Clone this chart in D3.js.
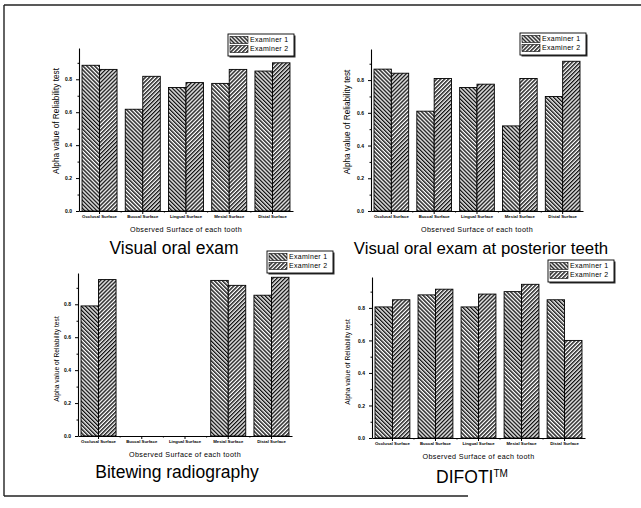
<!DOCTYPE html>
<html>
<head>
<meta charset="utf-8">
<script src="https://cdn.jsdelivr.net/npm/d3@7"></script>
<style>
  body { margin: 0; background: #fff; }
  svg { display: block; font-family: "Liberation Sans", Arial, sans-serif; }
</style>
</head>
<body>
<svg id="chart" width="641" height="508"></svg>
<script>
// values
const categories = ["Occlusal Surface", "Buccal Surface", "Lingual Surface", "Mesial Surface", "Distal Surface"];
const seriesNames = ["Examiner 1", "Examiner 2"];
const yTicks = [0, 0.2, 0.4, 0.6, 0.8];
const yMinorTicks = [0.1, 0.3, 0.5, 0.7, 0.9];

const visualEx1 = [0.885, 0.618, 0.75, 0.775, 0.85];
const visualEx2 = [0.86, 0.818, 0.78, 0.86, 0.90];
const posteriorEx1 = [0.867, 0.61, 0.755, 0.52, 0.70];
const posteriorEx2 = [0.842, 0.81, 0.775, 0.81, 0.915];
const bitewingEx1 = [0.79, 0, 0, 0.945, 0.855];
const bitewingEx2 = [0.95, 0, 0, 0.915, 0.964];
const difotiEx1 = [0.806, 0.88, 0.806, 0.90, 0.85];
const difotiEx2 = [0.85, 0.915, 0.885, 0.945, 0.60];

const titles = ["Visual oral exam", "Visual oral exam at posterior teeth", "Bitewing radiography", "DIFOTI"];

// layout of the four panels
const panels = [
  { ex1: visualEx1, ex2: visualEx2, title: titles[0], x0: 79, x1: 293, top: 48, zero: 211,
    legend: [228, 34], titleX: 174, titleY: 254, titleSize: 17.5, labelX: 57, labelY: 121, labelSize: 8.3 },
  { ex1: posteriorEx1, ex2: posteriorEx2, title: titles[1], x0: 371, x1: 583, top: 49, zero: 211,
    legend: [520, 33], titleX: 481, titleY: 254, titleSize: 16.8, labelX: 348, labelY: 122, labelSize: 8.2 },
  { ex1: bitewingEx1, ex2: bitewingEx2, title: titles[2], x0: 78, x1: 292, top: 273, zero: 436,
    legend: [267, 251], titleX: 177, titleY: 478, titleSize: 17.5, labelX: 57, labelY: 359, labelSize: 6.7 },
  { ex1: difotiEx1, ex2: difotiEx2, title: titles[3], x0: 372, x1: 585, top: 277, zero: 438,
    legend: [548, 260], titleX: 472, titleY: 483, titleSize: 17.5, labelX: 348, labelY: 362, labelSize: 6.7, tm: true }
];

const svg = d3.select("#chart");
const defs = svg.append("defs");

function hatch(id, angle) {
  const p = defs.append("pattern")
    .attr("id", id)
    .attr("patternUnits", "userSpaceOnUse")
    .attr("width", 2.8)
    .attr("height", 2.8)
    .attr("patternTransform", `rotate(${angle})`);
  p.append("rect").attr("width", 2.8).attr("height", 2.8).attr("fill", "#fff");
  p.append("rect").attr("width", 1.4).attr("height", 2.8).attr("fill", "#111");
}
hatch("hatch1", -45);
hatch("hatch2", 45);
const fills = ["url(#hatch1)", "url(#hatch2)"];

// scanned page frame
const frame = svg.append("g").attr("stroke", "#222").attr("stroke-width", 1.4);
frame.append("line").attr("x1", 4).attr("y1", 5).attr("x2", 641).attr("y2", 5);
frame.append("line").attr("x1", 4).attr("y1", 5).attr("x2", 4).attr("y2", 496);
frame.append("line").attr("x1", 4).attr("y1", 496).attr("x2", 468).attr("y2", 496);

panels.forEach(p => {
  const g = svg.append("g");

  const x = d3.scaleBand().domain(categories).range([p.x0, p.x1])
              .paddingInner(0.19).paddingOuter(0.07);
  const sub = d3.scaleBand().domain([0, 1]).range([0, x.bandwidth()]);
  const y = d3.scaleLinear().domain([0, 0.99]).range([p.zero, p.top]);

  // bars
  [p.ex1, p.ex2].forEach((vals, s) => {
    g.selectAll(null)
      .data(vals)
      .join("rect")
        .attr("x", (d, i) => x(categories[i]) + sub(s))
        .attr("y", d => y(d))
        .attr("width", sub.bandwidth())
        .attr("height", d => y(0) - y(d))
        .attr("fill", fills[s])
        .attr("stroke", "#000")
        .attr("stroke-width", 0.9);
  });

  // y axis
  const yAxis = g.append("g")
    .attr("transform", `translate(${p.x0},0)`)
    .call(d3.axisLeft(y).tickValues(yTicks).tickSize(3).tickSizeOuter(0).tickFormat(d3.format(".1f")));
  yAxis.select(".domain").attr("stroke-width", 1.1);
  yAxis.selectAll("text").attr("font-size", 5).attr("font-weight", "bold").attr("dx", -1);
  g.append("g")
    .attr("transform", `translate(${p.x0},0)`)
    .call(d3.axisLeft(y).tickValues(yMinorTicks).tickSize(1.5).tickFormat(""))
    .select(".domain").remove();

  // x axis
  const xAxis = g.append("g")
    .attr("transform", `translate(0,${p.zero})`)
    .call(d3.axisBottom(x).tickSize(3).tickSizeOuter(0));
  xAxis.select(".domain").attr("stroke-width", 1.1);
  xAxis.selectAll("text")
    .attr("font-size", 4.3)
    .attr("font-weight", "bold")
    .attr("dy", "0.3em");
  const bounds = categories.slice(1).map(c => x(c) - x.step() * x.paddingInner() / 2);
  g.append("g").selectAll("line")
    .data(bounds)
    .join("line")
      .attr("x1", d => d).attr("x2", d => d)
      .attr("y1", p.zero).attr("y2", p.zero + 1.5)
      .attr("stroke", "#000");

  // axis titles
  g.append("text")
    .attr("x", (p.x0 + p.x1) / 2)
    .attr("y", p.zero + 21)
    .attr("text-anchor", "middle")
    .attr("font-size", 7.2)
    .attr("letter-spacing", 0.35)
    .text("Observed Surface of each tooth");
  g.append("text")
    .attr("transform", `translate(${p.labelX},${p.labelY}) rotate(-90)`)
    .attr("text-anchor", "middle")
    .attr("dominant-baseline", "middle")
    .attr("font-size", p.labelSize)
    .text("Alpha value of Reliability test");

  // panel title
  const t = g.append("text")
    .attr("x", p.titleX)
    .attr("y", p.titleY)
    .attr("text-anchor", "middle")
    .attr("font-size", p.titleSize)
    .text(p.title);
  if (p.tm) {
    t.append("tspan").attr("font-size", 10).attr("dy", -6).text("TM");
  }

  // legend
  const lg = g.append("g").attr("transform", `translate(${p.legend[0]},${p.legend[1]})`);
  lg.append("rect").attr("x", 1.5).attr("y", 1.5).attr("width", 66).attr("height", 22).attr("fill", "#333");
  lg.append("rect").attr("width", 66).attr("height", 22).attr("fill", "#fff")
    .attr("stroke", "#000").attr("stroke-width", 0.9);
  seriesNames.forEach((name, s) => {
    lg.append("rect")
      .attr("x", 2).attr("y", 2.5 + s * 9)
      .attr("width", 18).attr("height", 7)
      .attr("fill", fills[s]).attr("stroke", "#000").attr("stroke-width", 0.6);
    lg.append("text")
      .attr("x", 22).attr("y", 6 + s * 9)
      .attr("dominant-baseline", "middle")
      .attr("font-size", 7)
      .attr("letter-spacing", 0.3)
      .text(name);
  });
});
</script>
</body>
</html>
